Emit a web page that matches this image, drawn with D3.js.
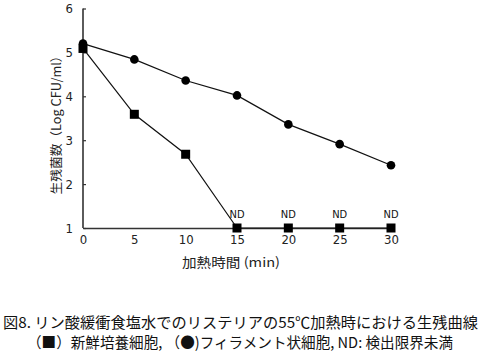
<!DOCTYPE html>
<html><head><meta charset="utf-8">
<script src="https://cdn.jsdelivr.net/npm/d3@7"></script>
<style>
body{margin:0;background:#fff;}
svg{display:block;}
</style></head>
<body>
<svg id="c" width="481" height="355"></svg>
<script>
const times = [0, 5, 10, 15, 20, 25, 30];
const filament = [5.2, 4.84, 4.36, 4.02, 3.36, 2.91, 2.43];
const fresh = [5.09, 3.59, 2.68, 1, 1, 1, 1];
const ndFlags = [false, false, false, true, true, true, true];
const yTicks = [1, 2, 3, 4, 5, 6];
const xTicks = [0, 5, 10, 15, 20, 25, 30];
const xLabel = "加熱時間 (min)";
const yLabel = "生残菌数（Log CFU/ml）";
const caption1 = "図8. リン酸緩衝食塩水でのリステリアの55℃加熱時における生残曲線";
const caption2 = "（■）新鮮培養細胞, （●)フィラメント状細胞, ND: 検出限界未満";

const svg = d3.select("#c");
const x = d3.scaleLinear().domain([0, 30]).range([83, 391]);
const y = d3.scaleLinear().domain([1, 6]).range([228, 8.5]);
const cjk = '"Noto Sans CJK JP","Noto Sans",sans-serif';
const narrow = '"Liberation Sans Narrow","DejaVu Sans Condensed","Noto Sans",sans-serif';

// axes
const xAxis = svg.append("g").attr("transform", `translate(0,${y(1)})`)
  .call(d3.axisBottom(x).tickValues(xTicks).tickSize(0).tickPadding(7));
xAxis.select(".domain").attr("stroke", "#333").attr("stroke-width", 1.6);
xAxis.selectAll("text").attr("font-size", 13).attr("fill", "#222").attr("font-family", narrow);

const yAxis = svg.append("g").attr("transform", `translate(${x(0)},0)`)
  .call(d3.axisRight(y).tickValues(yTicks).tickSize(3).tickFormat(d3.format("d")));
yAxis.select(".domain").attr("stroke", "#333").attr("stroke-width", 1.6).attr("d", `M0,${y(6)}V${y(1)}`);
yAxis.selectAll(".tick line").attr("stroke", "#333").attr("stroke-width", 1.2);
yAxis.selectAll("text").attr("x", -10).attr("text-anchor", "end")
  .attr("font-size", 13).attr("fill", "#222").attr("font-family", narrow);

const line = d3.line().x(d => x(d[0])).y(d => y(d[1]));
const filData = times.map((t, i) => [t, filament[i]]);
const freshData = times.map((t, i) => [t, fresh[i]]);

svg.append("path").datum(filData).attr("d", line).attr("fill", "none").attr("stroke", "#111").attr("stroke-width", 1.2);
svg.append("path").datum(freshData).attr("d", line).attr("fill", "none").attr("stroke", "#111").attr("stroke-width", 1.2);

svg.selectAll("rect.sq").data(freshData).enter().append("rect").attr("class", "sq")
  .attr("x", d => x(d[0]) - 4.5).attr("y", d => y(d[1]) - 4.5)
  .attr("width", 9).attr("height", 9).attr("fill", "#000");
svg.selectAll("circle.ci").data(filData).enter().append("circle").attr("class", "ci")
  .attr("cx", d => x(d[0])).attr("cy", d => y(d[1])).attr("r", 4.3).attr("fill", "#000");

svg.selectAll("text.nd").data(freshData.filter((d, i) => ndFlags[i])).enter().append("text").attr("class", "nd")
  .attr("x", d => x(d[0])).attr("y", d => y(d[1]) - 10).attr("text-anchor", "middle")
  .attr("font-size", 11).attr("font-family", narrow).attr("fill", "#111").text("ND");

svg.append("text").attr("x", 231).attr("y", 267).attr("text-anchor", "middle")
  .attr("font-size", 13).attr("font-family", cjk).attr("fill", "#222")
  .attr("textLength", 98).attr("lengthAdjust", "spacingAndGlyphs").text(xLabel);
svg.append("text").attr("transform", `translate(61,122) rotate(-90)`).attr("text-anchor", "middle")
  .attr("font-size", 12.5).attr("font-family", cjk).attr("fill", "#222")
  .attr("textLength", 145).attr("lengthAdjust", "spacingAndGlyphs").text(yLabel);

svg.append("text").attr("x", 240.5).attr("y", 328).attr("text-anchor", "middle")
  .attr("font-size", 15).attr("font-family", cjk).attr("fill", "#111")
  .attr("textLength", 475).attr("lengthAdjust", "spacingAndGlyphs").text(caption1);
svg.append("text").attr("x", 240).attr("y", 348).attr("text-anchor", "middle")
  .attr("font-size", 15).attr("font-family", cjk).attr("fill", "#111")
  .attr("textLength", 426).attr("lengthAdjust", "spacingAndGlyphs").text(caption2);
</script>
</body></html>
